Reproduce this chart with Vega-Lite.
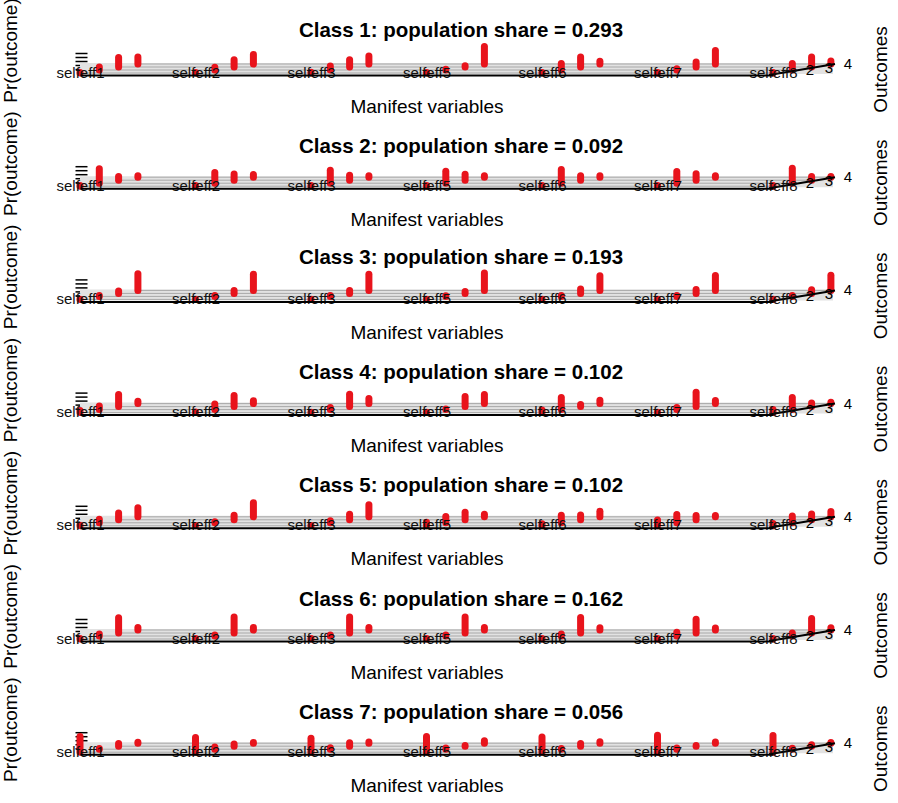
{
"$schema": "https://vega.github.io/schema/vega-lite/v6.json",
"background": "white",
"padding": {"left": 1, "top": -3, "right": 0, "bottom": 0},
"datasets": {
"classes": [
{"c":1,"label":"Class 1: population share = 0.293"},
{"c":2,"label":"Class 2: population share = 0.092"},
{"c":3,"label":"Class 3: population share = 0.193"},
{"c":4,"label":"Class 4: population share = 0.102"},
{"c":5,"label":"Class 5: population share = 0.102"},
{"c":6,"label":"Class 6: population share = 0.162"},
{"c":7,"label":"Class 7: population share = 0.056"}
],
"probs": [
{"c":1,"v":"selfeff1","o":1,"p":0.02},{"c":1,"v":"selfeff1","o":2,"p":0.15},{"c":1,"v":"selfeff1","o":3,"p":0.48},{"c":1,"v":"selfeff1","o":4,"p":0.35},
{"c":1,"v":"selfeff2","o":1,"p":0.02},{"c":1,"v":"selfeff2","o":2,"p":0.14},{"c":1,"v":"selfeff2","o":3,"p":0.36},{"c":1,"v":"selfeff2","o":4,"p":0.48},
{"c":1,"v":"selfeff3","o":1,"p":0.04},{"c":1,"v":"selfeff3","o":2,"p":0.2},{"c":1,"v":"selfeff3","o":3,"p":0.36},{"c":1,"v":"selfeff3","o":4,"p":0.4},
{"c":1,"v":"selfeff5","o":1,"p":0.02},{"c":1,"v":"selfeff5","o":2,"p":0.04},{"c":1,"v":"selfeff5","o":3,"p":0.06},{"c":1,"v":"selfeff5","o":4,"p":0.88},
{"c":1,"v":"selfeff6","o":1,"p":0.03},{"c":1,"v":"selfeff6","o":2,"p":0.33},{"c":1,"v":"selfeff6","o":3,"p":0.5},{"c":1,"v":"selfeff6","o":4,"p":0.14},
{"c":1,"v":"selfeff7","o":1,"p":0.02},{"c":1,"v":"selfeff7","o":2,"p":0.06},{"c":1,"v":"selfeff7","o":3,"p":0.25},{"c":1,"v":"selfeff7","o":4,"p":0.67},
{"c":1,"v":"selfeff8","o":1,"p":0.03},{"c":1,"v":"selfeff8","o":2,"p":0.32},{"c":1,"v":"selfeff8","o":3,"p":0.5},{"c":1,"v":"selfeff8","o":4,"p":0.15},
{"c":2,"v":"selfeff1","o":1,"p":0.03},{"c":2,"v":"selfeff1","o":2,"p":0.72},{"c":2,"v":"selfeff1","o":3,"p":0.18},{"c":2,"v":"selfeff1","o":4,"p":0.07},
{"c":2,"v":"selfeff2","o":1,"p":0.03},{"c":2,"v":"selfeff2","o":2,"p":0.53},{"c":2,"v":"selfeff2","o":3,"p":0.31},{"c":2,"v":"selfeff2","o":4,"p":0.13},
{"c":2,"v":"selfeff3","o":1,"p":0.03},{"c":2,"v":"selfeff3","o":2,"p":0.65},{"c":2,"v":"selfeff3","o":3,"p":0.25},{"c":2,"v":"selfeff3","o":4,"p":0.07},
{"c":2,"v":"selfeff5","o":1,"p":0.03},{"c":2,"v":"selfeff5","o":2,"p":0.6},{"c":2,"v":"selfeff5","o":3,"p":0.3},{"c":2,"v":"selfeff5","o":4,"p":0.07},
{"c":2,"v":"selfeff6","o":1,"p":0.03},{"c":2,"v":"selfeff6","o":2,"p":0.68},{"c":2,"v":"selfeff6","o":3,"p":0.22},{"c":2,"v":"selfeff6","o":4,"p":0.07},
{"c":2,"v":"selfeff7","o":1,"p":0.03},{"c":2,"v":"selfeff7","o":2,"p":0.58},{"c":2,"v":"selfeff7","o":3,"p":0.32},{"c":2,"v":"selfeff7","o":4,"p":0.07},
{"c":2,"v":"selfeff8","o":1,"p":0.03},{"c":2,"v":"selfeff8","o":2,"p":0.75},{"c":2,"v":"selfeff8","o":3,"p":0.18},{"c":2,"v":"selfeff8","o":4,"p":0.04},
{"c":3,"v":"selfeff1","o":1,"p":0.01},{"c":3,"v":"selfeff1","o":2,"p":0.04},{"c":3,"v":"selfeff1","o":3,"p":0.12},{"c":3,"v":"selfeff1","o":4,"p":0.83},
{"c":3,"v":"selfeff2","o":1,"p":0.01},{"c":3,"v":"selfeff2","o":2,"p":0.04},{"c":3,"v":"selfeff2","o":3,"p":0.14},{"c":3,"v":"selfeff2","o":4,"p":0.81},
{"c":3,"v":"selfeff3","o":1,"p":0.01},{"c":3,"v":"selfeff3","o":2,"p":0.04},{"c":3,"v":"selfeff3","o":3,"p":0.14},{"c":3,"v":"selfeff3","o":4,"p":0.81},
{"c":3,"v":"selfeff5","o":1,"p":0.01},{"c":3,"v":"selfeff5","o":2,"p":0.03},{"c":3,"v":"selfeff5","o":3,"p":0.09},{"c":3,"v":"selfeff5","o":4,"p":0.87},
{"c":3,"v":"selfeff6","o":1,"p":0.01},{"c":3,"v":"selfeff6","o":2,"p":0.04},{"c":3,"v":"selfeff6","o":3,"p":0.22},{"c":3,"v":"selfeff6","o":4,"p":0.73},
{"c":3,"v":"selfeff7","o":1,"p":0.01},{"c":3,"v":"selfeff7","o":2,"p":0.04},{"c":3,"v":"selfeff7","o":3,"p":0.2},{"c":3,"v":"selfeff7","o":4,"p":0.75},
{"c":3,"v":"selfeff8","o":1,"p":0.01},{"c":3,"v":"selfeff8","o":2,"p":0.05},{"c":3,"v":"selfeff8","o":3,"p":0.18},{"c":3,"v":"selfeff8","o":4,"p":0.76},
{"c":4,"v":"selfeff1","o":1,"p":0.1},{"c":4,"v":"selfeff1","o":2,"p":0.18},{"c":4,"v":"selfeff1","o":3,"p":0.6},{"c":4,"v":"selfeff1","o":4,"p":0.12},
{"c":4,"v":"selfeff2","o":1,"p":0.03},{"c":4,"v":"selfeff2","o":2,"p":0.28},{"c":4,"v":"selfeff2","o":3,"p":0.55},{"c":4,"v":"selfeff2","o":4,"p":0.14},
{"c":4,"v":"selfeff3","o":1,"p":0.02},{"c":4,"v":"selfeff3","o":2,"p":0.1},{"c":4,"v":"selfeff3","o":3,"p":0.62},{"c":4,"v":"selfeff3","o":4,"p":0.26},
{"c":4,"v":"selfeff5","o":1,"p":0.02},{"c":4,"v":"selfeff5","o":2,"p":0.03},{"c":4,"v":"selfeff5","o":3,"p":0.5},{"c":4,"v":"selfeff5","o":4,"p":0.45},
{"c":4,"v":"selfeff6","o":1,"p":0.13},{"c":4,"v":"selfeff6","o":2,"p":0.6},{"c":4,"v":"selfeff6","o":3,"p":0.1},{"c":4,"v":"selfeff6","o":4,"p":0.17},
{"c":4,"v":"selfeff7","o":1,"p":0.02},{"c":4,"v":"selfeff7","o":2,"p":0.1},{"c":4,"v":"selfeff7","o":3,"p":0.72},{"c":4,"v":"selfeff7","o":4,"p":0.16},
{"c":4,"v":"selfeff8","o":1,"p":0.15},{"c":4,"v":"selfeff8","o":2,"p":0.6},{"c":4,"v":"selfeff8","o":3,"p":0.18},{"c":4,"v":"selfeff8","o":4,"p":0.07},
{"c":5,"v":"selfeff1","o":1,"p":0.03},{"c":5,"v":"selfeff1","o":2,"p":0.18},{"c":5,"v":"selfeff1","o":3,"p":0.34},{"c":5,"v":"selfeff1","o":4,"p":0.45},
{"c":5,"v":"selfeff2","o":1,"p":0.02},{"c":5,"v":"selfeff2","o":2,"p":0.05},{"c":5,"v":"selfeff2","o":3,"p":0.23},{"c":5,"v":"selfeff2","o":4,"p":0.7},
{"c":5,"v":"selfeff3","o":1,"p":0.02},{"c":5,"v":"selfeff3","o":2,"p":0.1},{"c":5,"v":"selfeff3","o":3,"p":0.28},{"c":5,"v":"selfeff3","o":4,"p":0.6},
{"c":5,"v":"selfeff5","o":1,"p":0.18},{"c":5,"v":"selfeff5","o":2,"p":0.31},{"c":5,"v":"selfeff5","o":3,"p":0.38},{"c":5,"v":"selfeff5","o":4,"p":0.13},
{"c":5,"v":"selfeff6","o":1,"p":0.1},{"c":5,"v":"selfeff6","o":2,"p":0.38},{"c":5,"v":"selfeff6","o":3,"p":0.24},{"c":5,"v":"selfeff6","o":4,"p":0.28},
{"c":5,"v":"selfeff7","o":1,"p":0.29},{"c":5,"v":"selfeff7","o":2,"p":0.42},{"c":5,"v":"selfeff7","o":3,"p":0.22},{"c":5,"v":"selfeff7","o":4,"p":0.07},
{"c":5,"v":"selfeff8","o":1,"p":0.11},{"c":5,"v":"selfeff8","o":2,"p":0.34},{"c":5,"v":"selfeff8","o":3,"p":0.29},{"c":5,"v":"selfeff8","o":4,"p":0.26},
{"c":6,"v":"selfeff1","o":1,"p":0.02},{"c":6,"v":"selfeff1","o":2,"p":0.1},{"c":6,"v":"selfeff1","o":3,"p":0.76},{"c":6,"v":"selfeff1","o":4,"p":0.12},
{"c":6,"v":"selfeff2","o":1,"p":0.02},{"c":6,"v":"selfeff2","o":2,"p":0.05},{"c":6,"v":"selfeff2","o":3,"p":0.8},{"c":6,"v":"selfeff2","o":4,"p":0.13},
{"c":6,"v":"selfeff3","o":1,"p":0.02},{"c":6,"v":"selfeff3","o":2,"p":0.05},{"c":6,"v":"selfeff3","o":3,"p":0.8},{"c":6,"v":"selfeff3","o":4,"p":0.13},
{"c":6,"v":"selfeff5","o":1,"p":0.02},{"c":6,"v":"selfeff5","o":2,"p":0.05},{"c":6,"v":"selfeff5","o":3,"p":0.8},{"c":6,"v":"selfeff5","o":4,"p":0.13},
{"c":6,"v":"selfeff6","o":1,"p":0.02},{"c":6,"v":"selfeff6","o":2,"p":0.1},{"c":6,"v":"selfeff6","o":3,"p":0.77},{"c":6,"v":"selfeff6","o":4,"p":0.11},
{"c":6,"v":"selfeff7","o":1,"p":0.02},{"c":6,"v":"selfeff7","o":2,"p":0.19},{"c":6,"v":"selfeff7","o":3,"p":0.69},{"c":6,"v":"selfeff7","o":4,"p":0.1},
{"c":6,"v":"selfeff8","o":1,"p":0.02},{"c":6,"v":"selfeff8","o":2,"p":0.15},{"c":6,"v":"selfeff8","o":3,"p":0.72},{"c":6,"v":"selfeff8","o":4,"p":0.11},
{"c":7,"v":"selfeff1","o":1,"p":0.78},{"c":7,"v":"selfeff1","o":2,"p":0.04},{"c":7,"v":"selfeff1","o":3,"p":0.13},{"c":7,"v":"selfeff1","o":4,"p":0.05},
{"c":7,"v":"selfeff2","o":1,"p":0.74},{"c":7,"v":"selfeff2","o":2,"p":0.11},{"c":7,"v":"selfeff2","o":3,"p":0.11},{"c":7,"v":"selfeff2","o":4,"p":0.04},
{"c":7,"v":"selfeff3","o":1,"p":0.7},{"c":7,"v":"selfeff3","o":2,"p":0.07},{"c":7,"v":"selfeff3","o":3,"p":0.17},{"c":7,"v":"selfeff3","o":4,"p":0.06},
{"c":7,"v":"selfeff5","o":1,"p":0.78},{"c":7,"v":"selfeff5","o":2,"p":0.06},{"c":7,"v":"selfeff5","o":3,"p":0.04},{"c":7,"v":"selfeff5","o":4,"p":0.12},
{"c":7,"v":"selfeff6","o":1,"p":0.76},{"c":7,"v":"selfeff6","o":2,"p":0.03},{"c":7,"v":"selfeff6","o":3,"p":0.14},{"c":7,"v":"selfeff6","o":4,"p":0.07},
{"c":7,"v":"selfeff7","o":1,"p":0.85},{"c":7,"v":"selfeff7","o":2,"p":0.06},{"c":7,"v":"selfeff7","o":3,"p":0.03},{"c":7,"v":"selfeff7","o":4,"p":0.06},
{"c":7,"v":"selfeff8","o":1,"p":0.84},{"c":7,"v":"selfeff8","o":2,"p":0.05},{"c":7,"v":"selfeff8","o":3,"p":0.07},{"c":7,"v":"selfeff8","o":4,"p":0.04}
]
},
"data": {"name": "probs"},
"transform": [
{"lookup": "c", "from": {"data": {"name": "classes"}, "key": "c", "fields": ["label"]}}
],
"facet": {"field": "label", "type": "nominal", "header": {"title": null, "labelFont": "Liberation Sans", "labelFontSize": 20.5, "labelFontWeight": "bold", "labelColor": "black", "labelPadding": 1}},
"columns": 1,
"spacing": 18.2,
"resolve": {"axis": {"x": "independent"}},
"spec": {
"width": 770,
"height": 30,
"resolve": {"axis": {"y": "independent"}},
"layer": [
{
"transform": [{"filter": "datum.v == 'selfeff1' && datum.o == 1"}],
"mark": {"type": "rect", "fill": "#e2e2e2", "xOffset": 0, "x2Offset": 60, "yOffset": -1, "y2Offset": -12},
"encoding": {
"x": {"datum": "selfeff1", "type": "nominal", "title": "Manifest variables"},
"x2": {"datum": "selfeff8"},
"y": {"datum": 0, "type": "quantitative", "axis": null},
"y2": {"datum": 0}
}
},
{
"transform": [{"filter": "datum.v == 'selfeff1' && datum.o == 1"}],
"mark": {"type": "rule", "stroke": "#a8a8a8", "strokeWidth": 1, "xOffset": 0, "x2Offset": 0, "yOffset": -2, "y2Offset": -2},
"encoding": {"x": {"datum": "selfeff1", "type": "nominal", "title": "Manifest variables"}, "x2": {"datum": "selfeff8"}, "y": {"datum": 0, "type": "quantitative", "axis": null}, "y2": {"datum": 0}}
},
{
"transform": [{"filter": "datum.v == 'selfeff1' && datum.o == 1"}],
"mark": {"type": "rule", "stroke": "#a8a8a8", "strokeWidth": 1, "xOffset": 19.3, "x2Offset": 19.3, "yOffset": -5, "y2Offset": -5},
"encoding": {"x": {"datum": "selfeff1", "type": "nominal", "title": "Manifest variables"}, "x2": {"datum": "selfeff8"}, "y": {"datum": 0, "type": "quantitative", "axis": null}, "y2": {"datum": 0}}
},
{
"transform": [{"filter": "datum.v == 'selfeff1' && datum.o == 1"}],
"mark": {"type": "rule", "stroke": "#a8a8a8", "strokeWidth": 1, "xOffset": 38.6, "x2Offset": 38.6, "yOffset": -8, "y2Offset": -8},
"encoding": {"x": {"datum": "selfeff1", "type": "nominal", "title": "Manifest variables"}, "x2": {"datum": "selfeff8"}, "y": {"datum": 0, "type": "quantitative", "axis": null}, "y2": {"datum": 0}}
},
{
"transform": [{"filter": "datum.v == 'selfeff1' && datum.o == 1"}],
"mark": {"type": "rule", "stroke": "#a8a8a8", "strokeWidth": 1, "xOffset": 57.9, "x2Offset": 57.9, "yOffset": -11, "y2Offset": -11},
"encoding": {"x": {"datum": "selfeff1", "type": "nominal", "title": "Manifest variables"}, "x2": {"datum": "selfeff8"}, "y": {"datum": 0, "type": "quantitative", "axis": null}, "y2": {"datum": 0}}
},
{
"transform": [{"filter": "datum.o == 1"}],
"mark": {"type": "rule", "color": "#e8141c", "strokeWidth": 7, "strokeCap": "round", "xOffset": 0, "yOffset": -2, "y2Offset": -2},
"encoding": {
"x": {"field": "v", "type": "nominal", "title": "Manifest variables",
"scale": {"type": "point", "padding": 0, "domain": ["selfeff1","selfeff2","selfeff3","selfeff5","selfeff6","selfeff7","selfeff8"], "range": [4, 697]}},
"y": {"field": "p", "type": "quantitative", "scale": {"domain": [0, 1.5], "nice": false},
"axis": {"title": "Pr(outcome)", "orient": "left", "offset": -20, "values": [0.3, 0.5, 0.7, 0.9, 1.1], "labels": false, "domain": false, "grid": false, "ticks": true, "tickSize": -12, "tickColor": "black", "tickWidth": 1.5, "titleFont": "Liberation Sans", "titleFontSize": 19, "titleFontWeight": "normal", "titleColor": "black", "titleBaseline": "middle", "titleX": -65, "titleY": 5}},
"y2": {"datum": 0}
}
},
{
"transform": [{"filter": "datum.o == 2"}],
"mark": {"type": "rule", "color": "#e8141c", "strokeWidth": 7, "strokeCap": "round", "xOffset": 19.3, "yOffset": -5, "y2Offset": -5},
"encoding": {"x": {"field": "v", "type": "nominal", "title": "Manifest variables"}, "y": {"field": "p", "type": "quantitative", "axis": null}, "y2": {"datum": 0}}
},
{
"transform": [{"filter": "datum.o == 3"}],
"mark": {"type": "rule", "color": "#e8141c", "strokeWidth": 7, "strokeCap": "round", "xOffset": 38.6, "yOffset": -8, "y2Offset": -8},
"encoding": {"x": {"field": "v", "type": "nominal", "title": "Manifest variables"}, "y": {"field": "p", "type": "quantitative", "axis": null}, "y2": {"datum": 0}}
},
{
"transform": [{"filter": "datum.o == 4"}],
"mark": {"type": "rule", "color": "#e8141c", "strokeWidth": 7, "strokeCap": "round", "xOffset": 57.9, "yOffset": -11, "y2Offset": -11},
"encoding": {"x": {"field": "v", "type": "nominal", "title": "Manifest variables"},
"y": {"field": "p", "type": "quantitative",
"axis": {"title": "Outcomes", "orient": "right", "labels": false, "ticks": false, "domain": false, "grid": false, "titleFont": "Liberation Sans", "titleFontSize": 19, "titleFontWeight": "normal", "titleColor": "black", "titleAngle": 270, "titleBaseline": "middle", "titleX": 27, "titleY": 24}},
"y2": {"datum": 0}}
},
{
"transform": [{"filter": "datum.v == 'selfeff8' && datum.o == 1"}],
"mark": {"type": "rule", "stroke": "black", "strokeWidth": 2, "xOffset": -4, "x2Offset": 62, "yOffset": 0, "y2Offset": -11},
"encoding": {"x": {"datum": "selfeff8", "type": "nominal", "title": "Manifest variables"}, "x2": {"datum": "selfeff8"}, "y": {"datum": 0, "type": "quantitative", "axis": null}, "y2": {"datum": 0}}
},
{
"transform": [{"filter": "datum.v == 'selfeff8' && datum.o == 2"}],
"mark": {"type": "text", "font": "Liberation Sans", "fontSize": 15, "color": "black", "xOffset": 37, "yOffset": -5},
"encoding": {"x": {"field": "v", "type": "nominal", "title": "Manifest variables"}, "y": {"datum": 0, "type": "quantitative", "axis": null}, "text": {"field": "o"}}
},
{
"transform": [{"filter": "datum.v == 'selfeff8' && datum.o == 3"}],
"mark": {"type": "text", "font": "Liberation Sans", "fontSize": 15, "color": "black", "xOffset": 56, "yOffset": -7},
"encoding": {"x": {"field": "v", "type": "nominal", "title": "Manifest variables"}, "y": {"datum": 0, "type": "quantitative", "axis": null}, "text": {"field": "o"}}
},
{
"transform": [{"filter": "datum.v == 'selfeff8' && datum.o == 4"}],
"mark": {"type": "text", "font": "Liberation Sans", "fontSize": 15, "color": "black", "xOffset": 75, "yOffset": -11},
"encoding": {"x": {"field": "v", "type": "nominal", "title": "Manifest variables"}, "y": {"datum": 0, "type": "quantitative", "axis": null}, "text": {"field": "o"}}
}
]
},
"config": {
"font": "Liberation Sans",
"view": {"stroke": null},
"axisX": {"orient": "bottom", "domain": true, "domainColor": "black", "domainWidth": 2, "ticks": false, "grid": false, "labelAngle": 0, "labelFont": "Liberation Sans", "labelFontSize": 15, "labelColor": "#111111", "labelPadding": -10, "titleFont": "Liberation Sans", "titleFontSize": 19, "titleFontWeight": "normal", "titleColor": "black", "titlePadding": 17}
}
}
